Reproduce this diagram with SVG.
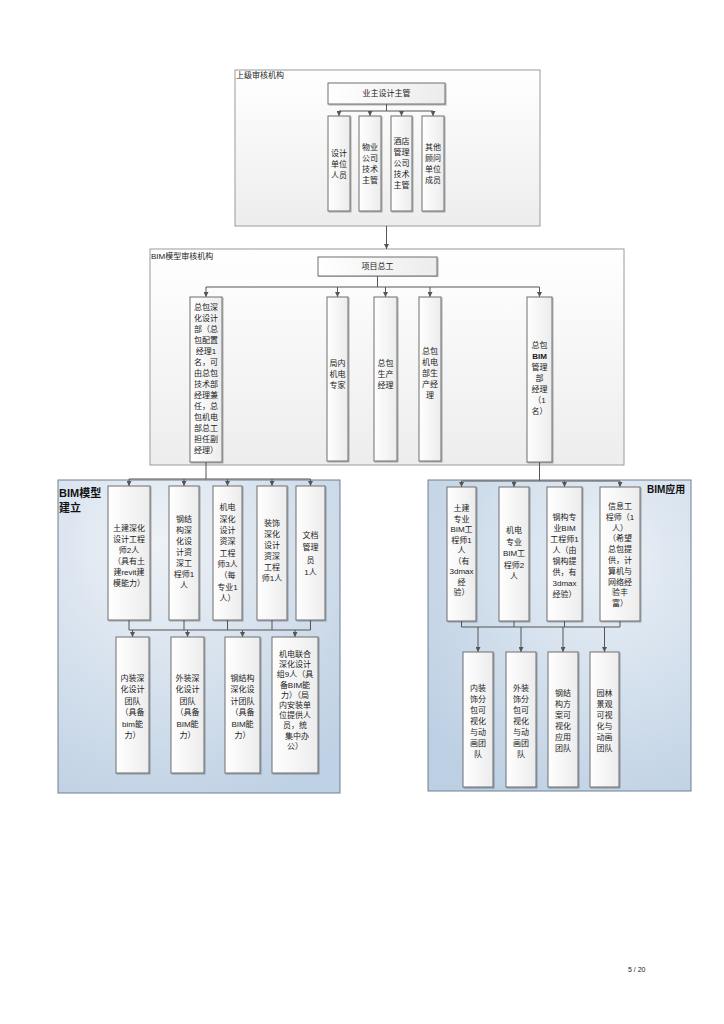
<svg xmlns="http://www.w3.org/2000/svg" width="724" height="1024" viewBox="0 0 724 1024">
<defs>
<linearGradient id="gFrame" x1="0" y1="0" x2="0" y2="1"><stop offset="0" stop-color="#ffffff"/><stop offset="1" stop-color="#ededed"/></linearGradient>
<linearGradient id="gBox" x1="0" y1="0" x2="1" y2="0"><stop offset="0" stop-color="#ffffff"/><stop offset="1" stop-color="#ececec"/></linearGradient>
<radialGradient id="gLeft" cx="0.35" cy="0.2" r="0.9"><stop offset="0" stop-color="#eef2f7"/><stop offset="1" stop-color="#bfd1e4"/></radialGradient>
<radialGradient id="gRight" cx="0.7" cy="0.25" r="0.9"><stop offset="0" stop-color="#eaf0f6"/><stop offset="1" stop-color="#bccfe3"/></radialGradient>
<filter id="sh" x="-20%" y="-5%" width="140%" height="110%"><feDropShadow dx="1" dy="1" stdDeviation="0.6" flood-color="#000" flood-opacity="0.3"/></filter>
<marker id="arr" markerWidth="5" markerHeight="5" refX="5" refY="2.5" orient="auto" markerUnits="userSpaceOnUse"><path d="M0,0 L5,2.5 L0,5 z" fill="#555"/></marker>
<style>
.frame{fill:url(#gFrame);stroke:#9a9a9a;stroke-width:1}
.panelL{fill:url(#gLeft);stroke:#6f7f90;stroke-width:1}
.panelR{fill:url(#gRight);stroke:#6f7f90;stroke-width:1}
.box{fill:url(#gBox);stroke:#6f6f6f;stroke-width:1;filter:url(#sh)}
.t{font-family:"Liberation Sans","Noto Sans CJK SC",sans-serif;font-size:8px;fill:#1a1a1a;text-anchor:middle;dominant-baseline:central}
.lbl{font-family:"Liberation Sans","Noto Sans CJK SC",sans-serif;font-size:8px;fill:#1a1a1a}
.big{font-family:"Liberation Sans","Noto Sans CJK SC",sans-serif;font-size:11px;font-weight:bold;fill:#111}
.c{fill:none;stroke:#555;stroke-width:1}
.ca{fill:none;stroke:#555;stroke-width:1;marker-end:url(#arr)}
</style>
</defs>
<rect width="724" height="1024" fill="#ffffff"/>

<!-- frames -->
<g id="frame-top"><rect class="frame" x="235" y="70" width="305" height="156"/><text class="lbl" x="236" y="78">上级审核机构</text></g>
<g id="frame-l2"><rect class="frame" x="150" y="249" width="474" height="216"/><text class="lbl" x="151" y="259">BIM模型审核机构</text></g>
<g id="panel-left"><rect class="panelL" x="58" y="480" width="282" height="313"/><text class="big" x="59" y="497">BIM模型</text><text class="big" x="59" y="512">建立</text></g>
<g id="panel-right"><rect class="panelR" x="428" y="480" width="263" height="311"/><text class="big" x="647" y="493" style="font-size:10px">BIM应用</text></g>

<!-- connectors -->
<g id="connectors">
<path class="c" d="M386.5,104 V111 M339,111 H433"/>
<path class="ca" d="M339,111 V116"/><path class="ca" d="M370,111 V116"/><path class="ca" d="M401.5,111 V116"/><path class="ca" d="M433,111 V116"/>
<path class="ca" d="M386.5,226 V249"/>
<path class="c" d="M377.5,276 V287 M206,287 H539.5"/>
<path class="ca" d="M206,287 V297"/><path class="ca" d="M337.5,287 V297"/><path class="ca" d="M385.5,287 V297"/><path class="ca" d="M430,287 V297"/><path class="ca" d="M539.5,287 V297"/>
<path class="c" d="M206,462 V479 M129,479 H310.5"/>
<path class="ca" d="M129,479 V486"/><path class="ca" d="M184,479 V486"/><path class="ca" d="M227.5,479 V486"/><path class="ca" d="M272,479 V486"/><path class="ca" d="M310.5,479 V486"/>
<path class="c" d="M539.5,462 V481 M461.5,481 H620"/>
<path class="ca" d="M461.5,481 V487"/><path class="ca" d="M514,481 V487"/><path class="ca" d="M564.5,481 V487"/><path class="ca" d="M620,481 V487"/>
<path class="c" d="M129,620 V630 M184,620 V630 M227.5,620 V630 M272,620 V630 M310.5,620 V630 M129,630 H310.5"/>
<path class="ca" d="M132.5,630 V637"/><path class="ca" d="M187.5,630 V637"/><path class="ca" d="M242.5,630 V637"/><path class="ca" d="M295,630 V637"/>
<path class="c" d="M461.5,621 V627 M514,621 V627 M564.5,621 V627 M620,621 V627 M461.5,627 H620"/>
<path class="ca" d="M478,627 V652"/><path class="ca" d="M521,627 V652"/><path class="ca" d="M563,627 V652"/><path class="ca" d="M604.5,627 V652"/>
</g>

<!-- top level -->
<g id="n-yezhu"><rect class="box" x="328" y="83" width="117" height="21"/><text class="t" x="386.5" y="93.5">业主设计主管</text></g>
<g id="n-sheji"><rect class="box" x="328" y="116" width="22" height="95"/><text class="t"><tspan x="339" y="152.5">设计</tspan><tspan x="339" y="163.5">单位</tspan><tspan x="339" y="174.5">人员</tspan></text></g>
<g id="n-wuye"><rect class="box" x="359" y="116" width="22" height="95"/><text class="t"><tspan x="370" y="147">物业</tspan><tspan x="370" y="158">公司</tspan><tspan x="370" y="169">技术</tspan><tspan x="370" y="180">主管</tspan></text></g>
<g id="n-jiudian"><rect class="box" x="391" y="116" width="21" height="95"/><text class="t"><tspan x="401.5" y="141">酒店</tspan><tspan x="401.5" y="152">管理</tspan><tspan x="401.5" y="163">公司</tspan><tspan x="401.5" y="174">技术</tspan><tspan x="401.5" y="185">主管</tspan></text></g>
<g id="n-qita"><rect class="box" x="422" y="116" width="22" height="95"/><text class="t"><tspan x="433" y="147">其他</tspan><tspan x="433" y="158">顾问</tspan><tspan x="433" y="169">单位</tspan><tspan x="433" y="180">成员</tspan></text></g>

<!-- level 2 -->
<g id="n-zonggong"><rect class="box" x="318" y="257" width="119" height="19"/><text class="t" x="377.5" y="266.5">项目总工</text></g>
<g id="n-zongbao-shenhua"><rect class="box" x="190" y="297" width="32" height="165"/><text class="t"><tspan x="206" y="306.5">总包深</tspan><tspan x="206" y="317.5">化设计</tspan><tspan x="206" y="328.5">部（总</tspan><tspan x="206" y="339.5">包配置</tspan><tspan x="206" y="350.5">经理1</tspan><tspan x="206" y="361.5">名，可</tspan><tspan x="206" y="372.5">由总包</tspan><tspan x="206" y="383.5">技术部</tspan><tspan x="206" y="394.5">经理兼</tspan><tspan x="206" y="405.5">任，总</tspan><tspan x="206" y="416.5">包机电</tspan><tspan x="206" y="427.5">部总工</tspan><tspan x="206" y="438.5">担任副</tspan><tspan x="206" y="449.5">经理）</tspan></text></g>
<g id="n-junei"><rect class="box" x="327" y="297" width="21" height="164"/><text class="t"><tspan x="337.5" y="363">局内</tspan><tspan x="337.5" y="374">机电</tspan><tspan x="337.5" y="385">专家</tspan></text></g>
<g id="n-shengchan"><rect class="box" x="374" y="297" width="23" height="164"/><text class="t"><tspan x="385.5" y="363">总包</tspan><tspan x="385.5" y="374">生产</tspan><tspan x="385.5" y="385">经理</tspan></text></g>
<g id="n-jidianbu"><rect class="box" x="419" y="297" width="22" height="164"/><text class="t"><tspan x="430" y="351">总包</tspan><tspan x="430" y="362">机电</tspan><tspan x="430" y="373">部生</tspan><tspan x="430" y="384">产经</tspan><tspan x="430" y="395">理</tspan></text></g>
<g id="n-bimguanli"><rect class="box" x="527" y="297" width="25" height="165"/><text class="t"><tspan x="539.5" y="345">总包</tspan><tspan x="539.5" y="356" font-weight="bold">BIM</tspan><tspan x="539.5" y="367">管理</tspan><tspan x="539.5" y="378">部</tspan><tspan x="539.5" y="389">经理</tspan><tspan x="539.5" y="400">（1</tspan><tspan x="539.5" y="411">名）</tspan></text></g>

<!-- left panel upper -->
<g id="n-tujian"><rect class="box" x="108" y="486" width="42" height="134"/><text class="t"><tspan x="129" y="527.5">土建深化</tspan><tspan x="129" y="538.5">设计工程</tspan><tspan x="129" y="549.5">师2人</tspan><tspan x="129" y="560.5">（具有土</tspan><tspan x="129" y="571.5">建revit建</tspan><tspan x="129" y="582.5">模能力）</tspan></text></g>
<g id="n-gangjiegou"><rect class="box" x="169" y="486" width="30" height="134"/><text class="t"><tspan x="184" y="519">钢结</tspan><tspan x="184" y="530">构深</tspan><tspan x="184" y="541">化设</tspan><tspan x="184" y="552">计资</tspan><tspan x="184" y="563">深工</tspan><tspan x="184" y="574">程师1</tspan><tspan x="184" y="585">人</tspan></text></g>
<g id="n-jidian-shenhua"><rect class="box" x="213" y="486" width="29" height="134"/><text class="t"><tspan x="227.5" y="507">机电</tspan><tspan x="227.5" y="518.5">深化</tspan><tspan x="227.5" y="530">设计</tspan><tspan x="227.5" y="541">资深</tspan><tspan x="227.5" y="552.5">工程</tspan><tspan x="227.5" y="564">师3人</tspan><tspan x="227.5" y="575">（每</tspan><tspan x="227.5" y="586.5">专业1</tspan><tspan x="227.5" y="598">人）</tspan></text></g>
<g id="n-zhuangshi"><rect class="box" x="257" y="486" width="30" height="134"/><text class="t"><tspan x="272" y="523">装饰</tspan><tspan x="272" y="534">深化</tspan><tspan x="272" y="545">设计</tspan><tspan x="272" y="556">资深</tspan><tspan x="272" y="567">工程</tspan><tspan x="272" y="578">师1人</tspan></text></g>
<g id="n-wendang"><rect class="box" x="296" y="486" width="29" height="134"/><text class="t"><tspan x="310.5" y="535">文档</tspan><tspan x="310.5" y="547">管理</tspan><tspan x="310.5" y="559.5">员</tspan><tspan x="310.5" y="572">1人</tspan></text></g>

<!-- left panel lower -->
<g id="n-neizhuang"><rect class="box" x="116" y="637" width="33" height="136"/><text class="t"><tspan x="132.5" y="677.5">内装深</tspan><tspan x="132.5" y="689">化设计</tspan><tspan x="132.5" y="700.5">团队</tspan><tspan x="132.5" y="712">（具备</tspan><tspan x="132.5" y="723.5">bim能</tspan><tspan x="132.5" y="735">力）</tspan></text></g>
<g id="n-waizhuang"><rect class="box" x="171" y="637" width="33" height="136"/><text class="t"><tspan x="187.5" y="677.5">外装深</tspan><tspan x="187.5" y="689">化设计</tspan><tspan x="187.5" y="700.5">团队</tspan><tspan x="187.5" y="712">（具备</tspan><tspan x="187.5" y="723.5">BIM能</tspan><tspan x="187.5" y="735">力）</tspan></text></g>
<g id="n-gang-team"><rect class="box" x="225" y="637" width="35" height="136"/><text class="t"><tspan x="242.5" y="677.5">钢结构</tspan><tspan x="242.5" y="689">深化设</tspan><tspan x="242.5" y="700.5">计团队</tspan><tspan x="242.5" y="712">（具备</tspan><tspan x="242.5" y="723.5">BIM能</tspan><tspan x="242.5" y="735">力）</tspan></text></g>
<g id="n-jidian-team"><rect class="box" x="272" y="637" width="46" height="136"/><text class="t"><tspan x="295" y="654">机电联合</tspan><tspan x="295" y="664.2">深化设计</tspan><tspan x="295" y="674.4">组9人（具</tspan><tspan x="295" y="684.6">备BIM能</tspan><tspan x="295" y="694.8">力）（局</tspan><tspan x="295" y="705">内安装单</tspan><tspan x="295" y="715.2">位提供人</tspan><tspan x="295" y="725.4">员，统</tspan><tspan x="297" y="735.6">集中办</tspan><tspan x="295" y="745.8">公）</tspan></text></g>

<!-- right panel upper -->
<g id="n-tujian-bim"><rect class="box" x="447" y="487" width="29" height="134"/><text class="t"><tspan x="461.5" y="508">土建</tspan><tspan x="461.5" y="518.5">专业</tspan><tspan x="461.5" y="529">BIM工</tspan><tspan x="461.5" y="539.5">程师1</tspan><tspan x="461.5" y="550">人</tspan><tspan x="461.5" y="560.5">（有</tspan><tspan x="461.5" y="571">3dmax</tspan><tspan x="461.5" y="581.5">经</tspan><tspan x="461.5" y="592">验）</tspan></text></g>
<g id="n-jidian-bim"><rect class="box" x="499" y="487" width="30" height="134"/><text class="t"><tspan x="514" y="530">机电</tspan><tspan x="514" y="541.5">专业</tspan><tspan x="514" y="553">BIM工</tspan><tspan x="514" y="564.5">程师2</tspan><tspan x="514" y="576">人</tspan></text></g>
<g id="n-gangou-bim"><rect class="box" x="547" y="487" width="35" height="134"/><text class="t"><tspan x="564.5" y="517">钢构专</tspan><tspan x="564.5" y="528">业BIM</tspan><tspan x="564.5" y="539">工程师1</tspan><tspan x="564.5" y="550">人（由</tspan><tspan x="564.5" y="561">钢构提</tspan><tspan x="564.5" y="572">供，有</tspan><tspan x="564.5" y="583">3dmax</tspan><tspan x="564.5" y="594">经验）</tspan></text></g>
<g id="n-xinxi"><rect class="box" x="600" y="487" width="40" height="134"/><text class="t"><tspan x="620" y="506">信息工</tspan><tspan x="620" y="516.8">程师（1</tspan><tspan x="620" y="527.6">人）</tspan><tspan x="620" y="538.4">（希望</tspan><tspan x="620" y="549.2">总包提</tspan><tspan x="620" y="560">供，计</tspan><tspan x="620" y="570.8">算机与</tspan><tspan x="620" y="581.6">网络经</tspan><tspan x="620" y="592.4">验丰</tspan><tspan x="620" y="603.2">富）</tspan></text></g>

<!-- right panel lower -->
<g id="n-neizhuang-vis"><rect class="box" x="463" y="652" width="30" height="135"/><text class="t"><tspan x="478" y="688">内装</tspan><tspan x="478" y="699">饰分</tspan><tspan x="478" y="710">包可</tspan><tspan x="478" y="721">视化</tspan><tspan x="478" y="732">与动</tspan><tspan x="478" y="743">画团</tspan><tspan x="478" y="754">队</tspan></text></g>
<g id="n-waizhuang-vis"><rect class="box" x="506" y="652" width="30" height="135"/><text class="t"><tspan x="521" y="688">外装</tspan><tspan x="521" y="699">饰分</tspan><tspan x="521" y="710">包可</tspan><tspan x="521" y="721">视化</tspan><tspan x="521" y="732">与动</tspan><tspan x="521" y="743">画团</tspan><tspan x="521" y="754">队</tspan></text></g>
<g id="n-gang-vis"><rect class="box" x="548" y="652" width="30" height="135"/><text class="t"><tspan x="563" y="693">钢结</tspan><tspan x="563" y="704">构方</tspan><tspan x="563" y="715">案可</tspan><tspan x="563" y="726">视化</tspan><tspan x="563" y="737">应用</tspan><tspan x="563" y="748">团队</tspan></text></g>
<g id="n-yuanlin-vis"><rect class="box" x="590" y="652" width="29" height="135"/><text class="t"><tspan x="604.5" y="693">园林</tspan><tspan x="604.5" y="704">景观</tspan><tspan x="604.5" y="715">可视</tspan><tspan x="604.5" y="726">化与</tspan><tspan x="604.5" y="737">动画</tspan><tspan x="604.5" y="748">团队</tspan></text></g>

<text class="lbl" x="628" y="972" style="font-size:7px">5 / 20</text>
</svg>
